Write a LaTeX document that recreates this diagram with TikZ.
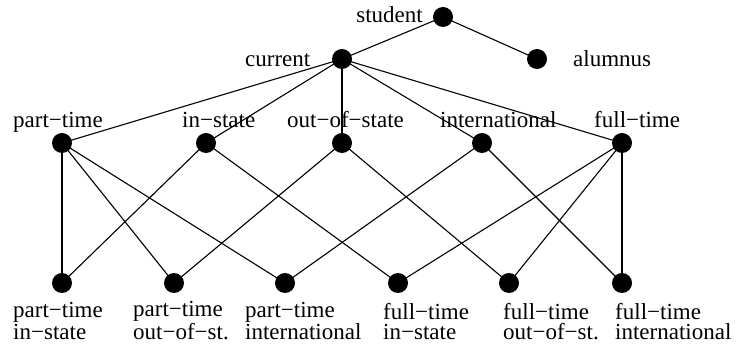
\documentclass[tikz,border=0pt]{standalone}
\usepackage{fontspec}
\setmainfont{Liberation Serif}
\begin{document}
\begin{tikzpicture}[x=1pt,y=-1pt,
  dot/.style={circle,fill=black,inner sep=0pt,minimum size=20pt},
  edge/.style={line width=1.1pt},
  lbl/.style={inner sep=0pt,anchor=base west,font=\fontsize{23}{20}\selectfont},
  lblr/.style={lbl,anchor=base east},
  twoline/.style={lbl,align=left}]
\useasboundingbox (0,0) rectangle (739,347);
% hierarchy dots
\node[dot] (student) at (443,17) {};
\node[dot] (current) at (342,59) {};
\node[dot] (alumnus) at (537,59) {};
\node[dot] (pt) at (62,143) {};
\node[dot] (is) at (206,143) {};
\node[dot] (os) at (342,143) {};
\node[dot] (in) at (482,143) {};
\node[dot] (ft) at (622,143) {};
\node[dot] (ptis) at (62,283) {};
\node[dot] (ptos) at (174,283) {};
\node[dot] (ptin) at (285,283) {};
\node[dot] (ftis) at (398,283) {};
\node[dot] (ftos) at (509,283) {};
\node[dot] (ftin) at (622,283) {};
% labels (two-line labels are placed by their last baseline)
\node[lblr] (lstudent) at (423,23) {student};
\node[lbl] (lcurrent) at (245,67) {current};
\node[lbl] (lalumnus) at (573,67) {alumnus};
\node[lbl] (lpt) at (13,128) {part−time};
\node[lbl] (lis) at (182,128) {in−state};
\node[lbl] (los) at (287,128) {out−of−state};
\node[lbl] (lin) at (440,128) {international};
\node[lbl] (lft) at (594,128) {full−time};
\node[twoline] (lptis) at (13,339) {part−time\\in−state};
\node[twoline] (lptos) at (133,339) {part−time\\out−of−st.};
\node[twoline] (lptin) at (245,339) {part−time\\international};
\node[twoline] (lftis) at (383,339) {full−time\\in−state};
\node[twoline] (lftos) at (503,339) {full−time\\out−of−st.};
\node[twoline] (lftin) at (615,339) {full−time\\international};
% connectors
\draw[edge] (student.center) -- (current.center);
\draw[edge] (student.center) -- (alumnus.center);
\foreach \t in {pt,is,os,in,ft} \draw[edge] (current.center) -- (\t.center);
\foreach \t in {ptis,ptos,ptin} \draw[edge] (pt.center) -- (\t.center);
\foreach \t in {ftis,ftos,ftin} \draw[edge] (ft.center) -- (\t.center);
\draw[edge] (is.center) -- (ptis.center);
\draw[edge] (is.center) -- (ftis.center);
\draw[edge] (os.center) -- (ptos.center);
\draw[edge] (os.center) -- (ftos.center);
\draw[edge] (in.center) -- (ptin.center);
\draw[edge] (in.center) -- (ftin.center);
\end{tikzpicture}
\end{document}
